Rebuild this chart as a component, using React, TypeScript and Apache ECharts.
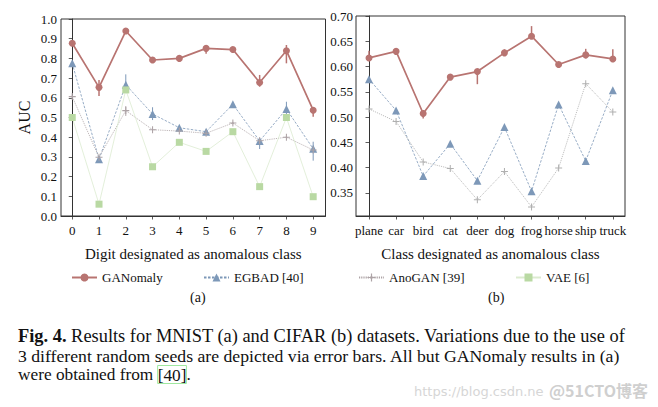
import React, { useEffect, useRef } from "react";
import * as echarts from "echarts";

const digitLabels = ["0", "1", "2", "3", "4", "5", "6", "7", "8", "9"];
const cifarLabels = ["plane", "car", "bird", "cat", "deer", "dog", "frog", "horse", "ship", "truck"];
const mnistTicks = [0, 0.1, 0.2, 0.3, 0.4, 0.5, 0.6, 0.7, 0.8, 0.9, 1.0];
const cifarTicks = [0.35, 0.4, 0.45, 0.5, 0.55, 0.6, 0.65, 0.7];

// MNIST (a)
const ganMnist = [0.877, 0.653, 0.939, 0.792, 0.8, 0.851, 0.845, 0.678, 0.839, 0.537];
const ganMnistLow = [0.872, 0.609, 0.934, 0.787, 0.795, 0.823, 0.837, 0.656, 0.775, 0.504];
const ganMnistHigh = [0.882, 0.69, 0.944, 0.797, 0.805, 0.858, 0.855, 0.716, 0.868, 0.552];
const egbadMnist = [0.775, 0.288, 0.666, 0.518, 0.448, 0.428, 0.567, 0.381, 0.543, 0.341];
const egbadMnistLow = [0.77, 0.283, 0.649, 0.487, 0.443, 0.423, 0.562, 0.34, 0.513, 0.281];
const egbadMnistHigh = [0.78, 0.293, 0.719, 0.552, 0.453, 0.433, 0.572, 0.395, 0.58, 0.377];
const anoMnist = [0.606, 0.298, 0.535, 0.438, 0.431, 0.42, 0.472, 0.382, 0.4, 0.335];
const anoMnistLow = [0.596, 0.293, 0.508, 0.434, 0.427, 0.416, 0.466, 0.378, 0.396, 0.33];
const anoMnistHigh = [0.616, 0.303, 0.558, 0.442, 0.435, 0.424, 0.478, 0.386, 0.404, 0.34];
const vaeMnist = [0.5, 0.06, 0.64, 0.25, 0.374, 0.328, 0.428, 0.149, 0.5, 0.098];

// CIFAR (b)
const ganCifar = [0.617, 0.63, 0.507, 0.579, 0.59, 0.627, 0.66, 0.604, 0.623, 0.615];
const ganCifarLow = [0.614, 0.627, 0.497, 0.576, 0.565, 0.623, 0.656, 0.601, 0.616, 0.614];
const ganCifarHigh = [0.631, 0.633, 0.514, 0.582, 0.594, 0.634, 0.68, 0.607, 0.635, 0.634];
const egbadCifar = [0.575, 0.513, 0.383, 0.447, 0.374, 0.48, 0.353, 0.525, 0.413, 0.553];
const anoCifar = [0.516, 0.491, 0.411, 0.398, 0.336, 0.392, 0.322, 0.399, 0.566, 0.51];

const captionLine1 = "Results for MNIST (a) and CIFAR (b) datasets. Variations due to the use of";
const captionLine2 = "3 different random seeds are depicted via error bars. All but GANomaly results in (a)";
const captionLine3a = "were obtained from ";

const FONT = "Liberation Serif";
const RED = "#b87471";
const BLUE = "#7d98b8";
const GREY = "#ada3a6";
const GREY_B = "#b0b0b0";
const GREEN = "#b9d9a3";
const GREEN_LINE = "#dcebd0";
const PLUS = "path://M4,0h1.4v4h4v1.4h-4v4h-1.4v-4h-4v-1.4h4z";

function pairs(v: number[]) {
  return v.map((y, i) => [i, y]);
}
function errs(lo: number[], hi: number[]) {
  return lo.map((l, i) => [i, l, hi[i]]);
}

function errSeries(name: string, xi: number, lo: number[], hi: number[], color: string, w: number) {
  return {
    type: "custom",
    name,
    xAxisIndex: xi,
    yAxisIndex: xi,
    data: errs(lo, hi),
    encode: { x: 0, y: [1, 2] },
    z: 3,
    renderItem: (params: any, api: any) => {
      const x = api.value(0);
      const a = api.coord([x, api.value(1)]);
      const b = api.coord([x, api.value(2)]);
      return {
        type: "line",
        shape: { x1: a[0], y1: a[1], x2: b[0], y2: b[1] },
        style: { stroke: color, lineWidth: w },
      };
    },
  };
}

export default function App() {
  const ref = useRef<HTMLDivElement>(null);
  useEffect(() => {
    document.body.style.margin = "0";
    const chart = echarts.init(ref.current!, null, { renderer: "svg" });
    const axisCommon = {
      axisLine: { show: true, lineStyle: { color: "#333", width: 1 } },
      axisTick: { show: true, inside: false, length: 3.5, lineStyle: { color: "#333", width: 0.8 } },
      splitLine: { show: false },
    };
    const labelStyle = { fontFamily: FONT, fontSize: 13, color: "#111" };
    const nameStyle = { fontFamily: FONT, fontSize: 15, color: "#111" };

    const ganStyle = (xi: number, data: number[]) => ({
      type: "line",
      name: "GANomaly",
      xAxisIndex: xi,
      yAxisIndex: xi,
      data: pairs(data),
      symbol: "circle",
      symbolSize: 7,
      lineStyle: { color: RED, width: 1.7, type: "solid" },
      itemStyle: { color: RED },
      z: 5,
    });
    const egbadStyle = (xi: number, data: number[]) => ({
      type: "line",
      name: "EGBAD [40]",
      xAxisIndex: xi,
      yAxisIndex: xi,
      data: pairs(data),
      symbol: "triangle",
      symbolSize: 8,
      lineStyle: { color: BLUE, width: 0.8, type: [2.5, 1.5] },
      itemStyle: { color: BLUE },
      z: 4,
    });
    const anoStyle = (xi: number, data: number[], c: string) => ({
      type: "line",
      name: "AnoGAN [39]",
      xAxisIndex: xi,
      yAxisIndex: xi,
      data: pairs(data),
      symbol: PLUS,
      symbolSize: 7,
      lineStyle: { color: c, width: 0.8, type: [1.2, 1] },
      itemStyle: { color: c },
      z: 4,
    });
    const vaeStyle = (xi: number, data: number[]) => ({
      type: "line",
      name: "VAE [6]",
      xAxisIndex: xi,
      yAxisIndex: xi,
      data: pairs(data),
      symbol: "rect",
      symbolSize: 7,
      lineStyle: { color: GREEN_LINE, width: 0.8, type: "solid" },
      itemStyle: { color: GREEN },
      z: 4,
    });

    const legendBase = (name: string, left: number) => ({
      data: [name],
      left,
      top: 266,
      orient: "horizontal",
      itemWidth: 25,
      itemHeight: 10,
      textStyle: { fontFamily: FONT, fontSize: 13, color: "#111" },
      selectedMode: false,
    });

    const cap = (size: number) => ({ fontFamily: FONT, fontSize: size, fill: "#111" });

    chart.setOption({
      animation: false,
      backgroundColor: "#ffffff",
      grid: [
        { left: 61, top: 19, width: 264.5, height: 197, show: true, borderColor: "#333", borderWidth: 1, backgroundColor: "transparent" },
        { left: 356, top: 16, width: 269, height: 200, show: true, borderColor: "#333", borderWidth: 1, backgroundColor: "transparent" },
      ],
      xAxis: [
        {
          type: "value",
          gridIndex: 0,
          min: -0.42,
          max: 9.46,
          ...axisCommon,
          axisTick: { ...axisCommon.axisTick, customValues: digitLabels.map((_, i) => i) },
          axisLabel: {
            ...labelStyle,
            margin: 8,
            customValues: digitLabels.map((_, i) => i),
            formatter: (v: number) => digitLabels[Math.round(v)] ?? "",
          },
          name: "Digit designated as anomalous class",
          nameLocation: "middle",
          nameGap: 30,
          nameTextStyle: nameStyle,
        },
        {
          type: "value",
          gridIndex: 1,
          min: -0.48,
          max: 9.45,
          ...axisCommon,
          axisTick: { ...axisCommon.axisTick, customValues: cifarLabels.map((_, i) => i) },
          axisLabel: {
            ...labelStyle,
            margin: 8,
            customValues: cifarLabels.map((_, i) => i),
            formatter: (v: number) => cifarLabels[Math.round(v)] ?? "",
          },
          name: "Class designated as anomalous class",
          nameLocation: "middle",
          nameGap: 30,
          nameTextStyle: nameStyle,
        },
      ],
      yAxis: [
        {
          type: "value",
          gridIndex: 0,
          min: 0,
          max: 1,
          ...axisCommon,
          axisTick: { ...axisCommon.axisTick, customValues: mnistTicks },
          axisLabel: {
            ...labelStyle,
            margin: 4,
            customValues: mnistTicks,
            formatter: (v: number) => v.toFixed(1),
          },
          name: "AUC",
          nameLocation: "middle",
          nameGap: 29,
          nameTextStyle: { ...nameStyle, fontSize: 16 },
        },
        {
          type: "value",
          gridIndex: 1,
          min: 0.304,
          max: 0.7,
          ...axisCommon,
          axisTick: { ...axisCommon.axisTick, customValues: cifarTicks },
          axisLabel: {
            ...labelStyle,
            margin: 3,
            customValues: cifarTicks,
            formatter: (v: number) => v.toFixed(2),
          },
        },
      ],
      legend: [
        legendBase("GANomaly", 66),
        legendBase("EGBAD [40]", 198),
        legendBase("AnoGAN [39]", 353),
        legendBase("VAE [6]", 510),
      ],
      series: [
        ganStyle(0, ganMnist),
        errSeries("e1", 0, ganMnistLow, ganMnistHigh, RED, 1.5),
        egbadStyle(0, egbadMnist),
        errSeries("e2", 0, egbadMnistLow, egbadMnistHigh, BLUE, 1),
        anoStyle(0, anoMnist, GREY),
        errSeries("e3", 0, anoMnistLow, anoMnistHigh, GREY, 1),
        vaeStyle(0, vaeMnist),
        ganStyle(1, ganCifar),
        errSeries("e4", 1, ganCifarLow, ganCifarHigh, RED, 1.5),
        egbadStyle(1, egbadCifar),
        anoStyle(1, anoCifar, GREY_B),
      ],
      graphic: [
        { type: "text", left: 190, top: 290, style: { text: "(a)", fontFamily: FONT, fontSize: 14, fill: "#111" } },
        { type: "text", left: 488, top: 290, style: { text: "(b)", fontFamily: FONT, fontSize: 14, fill: "#111" } },
        {
          type: "text",
          left: 18,
          top: 327,
          style: {
            text: "{b|Fig. 4.} " + captionLine1,
            ...cap(18.4),
            rich: { b: { fontFamily: FONT, fontSize: 18.4, fontWeight: "bold", fill: "#111" } },
          },
        },
        {
          type: "text",
          left: 18,
          top: 347,
          style: { text: captionLine2, ...cap(17.7) },
        },
        {
          type: "text",
          left: 18,
          top: 365,
          style: {
            text: captionLine3a + "{r|[40]}.",
            ...cap(17.3),
            rich: {
              r: {
                fontFamily: FONT,
                fontSize: 17.3,
                fill: "#111",
                borderColor: "#9fe89f",
                borderWidth: 1,
                padding: [1, 0, 0, 0],
              },
            },
          },
        },
        {
          type: "text",
          left: 414,
          top: 385,
          style: { text: "https://blog.csdn.ne", fontFamily: "DejaVu Sans", fontSize: 13, fill: "#d6d6d6" },
        },
        {
          type: "text",
          left: 549,
          top: 382,
          style: { text: "@51CTO博客", fontFamily: "Noto Sans CJK SC", fontSize: 16, fontWeight: "bold", fill: "#cfcfcf" },
        },
      ],
    });
    return () => chart.dispose();
  }, []);
  return <div ref={ref} style={{ width: 658, height: 407 }} />;
}
